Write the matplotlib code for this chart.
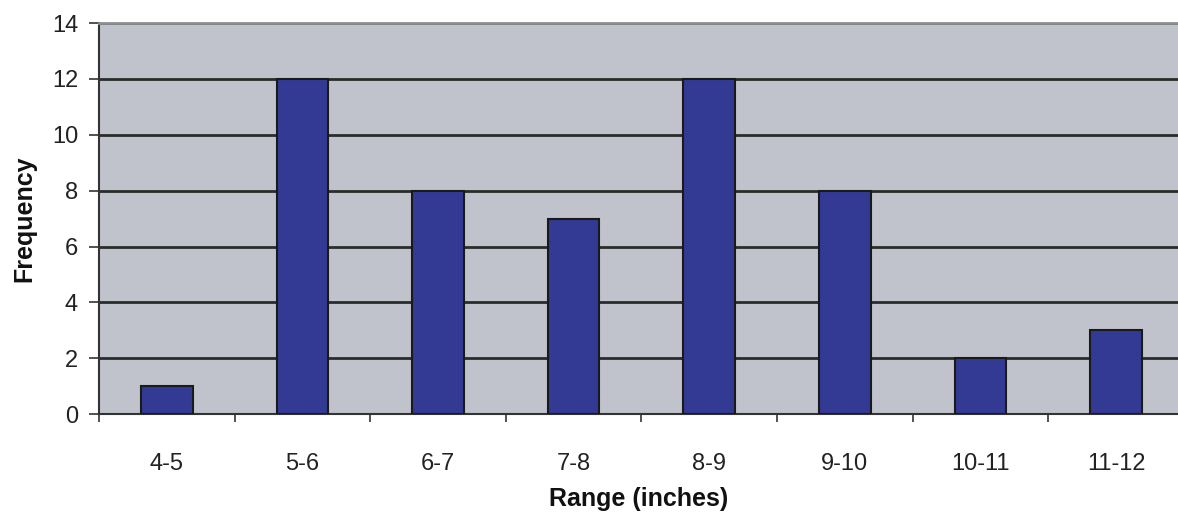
import matplotlib.pyplot as plt
from matplotlib.ticker import FixedLocator

# Rainfall ranges and how often each occurred
ranges = ["4-5", "5-6", "6-7", "7-8", "8-9", "9-10", "10-11", "11-12"]
frequency = [1, 12, 8, 7, 12, 8, 2, 3]
y_ticks = [0, 2, 4, 6, 8, 10, 12, 14]

plt.rcParams['font.family'] = ['Liberation Sans', 'DejaVu Sans']

fig = plt.figure(figsize=(11.78, 5.12), dpi=100)
ax = fig.add_axes([0.084, 0.191, 0.916, 0.764])
ax.set_facecolor("#c0c2cc")

x = list(range(len(ranges)))
ax.bar(x, frequency, width=0.38, color="#333a94", edgecolor="#1a1a1a",
       linewidth=1.5, zorder=3)

ax.set_ylim(0, 14)
# the last category runs past the right edge of the figure
ax.set_xlim(-0.5, 7.457)
ax.set_yticks(y_ticks)
ax.yaxis.grid(True, color="#2b2b2b", linewidth=2, zorder=1)
ax.set_axisbelow(True)

# category labels sit in the middle, tick marks between categories
ax.xaxis.set_major_locator(FixedLocator([i - 0.5 for i in range(len(ranges) + 1)]))
ax.xaxis.set_major_formatter(plt.NullFormatter())
ax.set_xticks(x, minor=True)
ax.set_xticklabels(ranges, minor=True)
ax.tick_params(axis='x', which='major', length=6, width=1.2, color="#333333")
ax.tick_params(axis='x', which='minor', length=0, pad=28, labelsize=17,
               labelcolor="#222222")
ax.tick_params(axis='y', length=7, width=1.2, color="#333333", pad=8,
               labelsize=17, labelcolor="#222222")

for side in ("left", "bottom"):
    ax.spines[side].set_color("#333333")
    ax.spines[side].set_linewidth(1.5)
ax.spines["top"].set_color("#8a9090")
ax.spines["top"].set_linewidth(2)
ax.spines["right"].set_visible(False)

ax.set_xlabel("Range (inches)", fontsize=18, fontweight="bold", color="#111111")
ax.set_ylabel("Frequency", fontsize=18, fontweight="bold", color="#111111")
ax.xaxis.set_label_coords(0.5, -0.216)
ax.xaxis.label.set_va("center")
ax.yaxis.set_label_coords(-0.0695, 0.5)
ax.yaxis.label.set_va("center")

fig.savefig("out.png", dpi=100)
